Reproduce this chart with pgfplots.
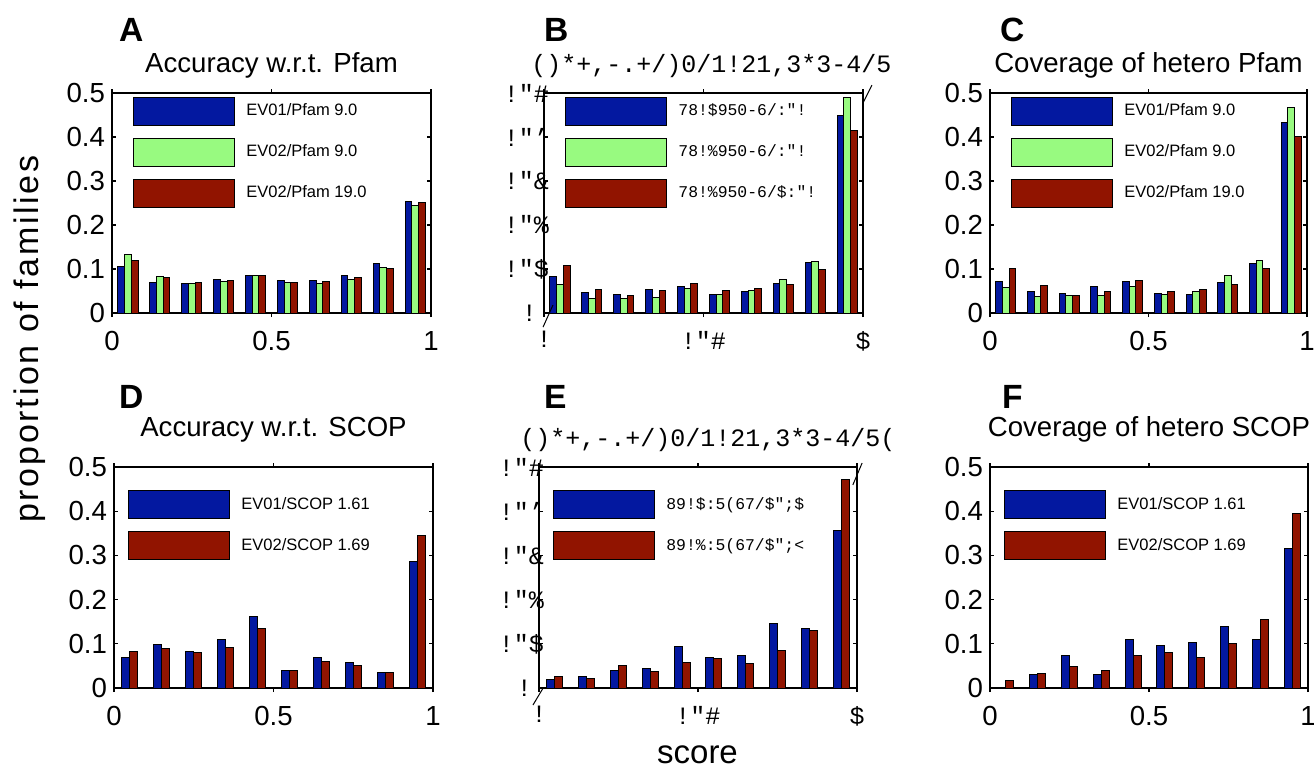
\documentclass[border=0pt]{standalone}
\usepackage{fontspec}
\setmainfont{Liberation Sans}
\newfontfamily\monofont{Liberation Mono}
\usepackage{pgfplots}
\usepackage{pgfplotstable}
\pgfplotsset{compat=1.18}

\definecolor{bblue}{RGB}{3,24,160}
\definecolor{lgreen}{RGB}{152,250,128}
\definecolor{dred}{RGB}{145,20,0}

\pgfplotstableread{
x b g r
0.05 0.106 0.133 0.119
0.15 0.070 0.082 0.080
0.25 0.067 0.067 0.070
0.35 0.076 0.072 0.073
0.45 0.085 0.086 0.085
0.55 0.073 0.069 0.070
0.65 0.073 0.067 0.072
0.75 0.086 0.077 0.080
0.85 0.112 0.103 0.101
0.95 0.254 0.244 0.252
}\dataA
\pgfplotstableread{
x b g r
0.05 0.083 0.064 0.108
0.15 0.047 0.033 0.054
0.25 0.042 0.034 0.039
0.35 0.053 0.036 0.051
0.45 0.060 0.056 0.067
0.55 0.042 0.043 0.052
0.65 0.050 0.051 0.055
0.75 0.067 0.076 0.064
0.85 0.114 0.117 0.098
0.95 0.448 0.489 0.414
}\dataB
\pgfplotstableread{
x b g r
0.05 0.072 0.059 0.101
0.15 0.048 0.037 0.062
0.25 0.045 0.039 0.039
0.35 0.061 0.039 0.048
0.45 0.071 0.061 0.075
0.55 0.045 0.041 0.050
0.65 0.041 0.048 0.053
0.75 0.070 0.086 0.065
0.85 0.113 0.120 0.102
0.95 0.432 0.468 0.401
}\dataC
\pgfplotstableread{
x b r
0.05 0.069 0.083
0.15 0.099 0.089
0.25 0.083 0.080
0.35 0.109 0.091
0.45 0.161 0.135
0.55 0.039 0.039
0.65 0.070 0.060
0.75 0.058 0.051
0.85 0.036 0.036
0.95 0.286 0.344
}\dataD
\pgfplotstableread{
x b r
0.05 0.019 0.027
0.15 0.027 0.021
0.25 0.040 0.051
0.35 0.045 0.038
0.45 0.094 0.057
0.55 0.069 0.066
0.65 0.073 0.056
0.75 0.146 0.084
0.85 0.134 0.129
0.95 0.357 0.472
}\dataE
\pgfplotstableread{
x b r
0.05 0.000 0.016
0.15 0.031 0.033
0.25 0.073 0.049
0.35 0.031 0.040
0.45 0.109 0.073
0.55 0.097 0.080
0.65 0.103 0.069
0.75 0.139 0.100
0.85 0.109 0.156
0.95 0.315 0.395
}\dataF

\newcommand{\tickfont}{\fontsize{13.8}{15}\selectfont}
\newcommand{\legfont}{\fontsize{8.25}{9}\selectfont}
\newcommand{\letfont}{\bfseries\fontsize{16.8}{18}\selectfont}

\pgfplotsset{
  panel/.style={
    scale only axis, width=159.5pt, height=110pt,
    anchor=south west,
    xmin=0, xmax=1, ymin=0, ymax=0.5,
    xtick={0,0.5,1}, ytick={0,0.1,0.2,0.3,0.4,0.5},
    tick align=inside, major tick length=2pt,
    tick style={line width=0.6pt, black},
    axis line style={line width=1pt},
    ybar,
    /pgf/number format/assume math mode=true,
    tick label style={font=\tickfont},
    xticklabel style={yshift=-3.5pt},
    title style={at={(0.5,1)}, anchor=base, yshift=4.5pt, font=\tickfont},
    legend cell align=left,
    legend image code/.code={\draw[##1,draw=black,line width=0.5pt] (0pt,-7pt) rectangle (50.5pt,7pt);},
    legend style={draw=none, fill=none, anchor=north west, inner sep=0pt,
      row sep=6pt, font=\legfont,
      /tikz/every odd column/.append style={column sep=3.5pt}},
  },
  mono/.style={
    tick label style={font=\monofont\fontsize{12.5}{14}\selectfont},
    yticklabel style={xshift=6pt},
    title style={font=\monofont\fontsize{12.5}{14}\selectfont},
    legend style={font=\monofont\fontsize{8.2}{9}\selectfont},
  },
  row1/.style={legend style={at={(0.066,0.986)}}},
  row2/.style={legend style={at={(0.044,0.896)}}},
}

\begin{document}
\begin{tikzpicture}
\useasboundingbox (0,0) rectangle (657pt,-383.5pt);

% ---------- A ----------
\begin{axis}[panel, row1, at={(56pt,-156.5pt)},
  title={Accuracy w.r.t. Pfam},
  extra description/.code={\node[anchor=base west,font=\letfont] at ([yshift=26pt]axis description cs:0,1) {A};}]
\addplot[fill=bblue, draw=black, line width=0.5pt, bar width=0.021, bar shift=-0.021] table[x=x,y=b]{\dataA};
\addlegendentry{EV01/Pfam 9.0}
\addplot[fill=lgreen, draw=black, line width=0.5pt, bar width=0.021, bar shift=0] table[x=x,y=g]{\dataA};
\addlegendentry{EV02/Pfam 9.0}
\addplot[fill=dred, draw=black, line width=0.5pt, bar width=0.021, bar shift=0.021] table[x=x,y=r]{\dataA};
\addlegendentry{EV02/Pfam 19.0}
\end{axis}

% ---------- B ----------
\begin{axis}[panel, mono, row1, at={(272pt,-156.5pt)},
  title={()*+,-.+/)0/1!21,3*3-4/5}, title style={xshift=4pt, yshift=0pt},
  xticklabels={!,!"\#,\$},
  yticklabels={{!\kern6pt},!"\$,!"\%,!"\&,!"’,!"\#},
  extra description/.code={
    \node[anchor=base west,font=\letfont] at ([xshift=-3.5pt,yshift=26pt]axis description cs:0,1) {B};
    \draw[line width=0.5pt] (axis description cs:-0.003,-0.064) -- (axis description cs:0.028,0.036);
    \draw[line width=0.5pt] (axis description cs:1.0,0.955) -- (axis description cs:1.028,1.036);
  }]
\addplot[fill=bblue, draw=black, line width=0.5pt, bar width=0.021, bar shift=-0.021] table[x=x,y=b]{\dataB};
\addlegendentry{78!\$950-6/:"!}
\addplot[fill=lgreen, draw=black, line width=0.5pt, bar width=0.021, bar shift=0] table[x=x,y=g]{\dataB};
\addlegendentry{78!\%950-6/:"!}
\addplot[fill=dred, draw=black, line width=0.5pt, bar width=0.021, bar shift=0.021] table[x=x,y=r]{\dataB};
\addlegendentry{78!\%950-6/\$:"!}
\end{axis}

% ---------- C ----------
\begin{axis}[panel, row1, at={(495pt,-156.5pt)}, width=158.5pt,
  title={Coverage of hetero Pfam},
  extra description/.code={\node[anchor=base west,font=\letfont] at ([xshift=1.5pt,yshift=26pt]axis description cs:0,1) {C};}]
\addplot[fill=bblue, draw=black, line width=0.5pt, bar width=0.021, bar shift=-0.021] table[x=x,y=b]{\dataC};
\addlegendentry{EV01/Pfam 9.0}
\addplot[fill=lgreen, draw=black, line width=0.5pt, bar width=0.021, bar shift=0] table[x=x,y=g]{\dataC};
\addlegendentry{EV02/Pfam 9.0}
\addplot[fill=dred, draw=black, line width=0.5pt, bar width=0.021, bar shift=0.021] table[x=x,y=r]{\dataC};
\addlegendentry{EV02/Pfam 19.0}
\end{axis}

% ---------- D ----------
\begin{axis}[panel, row2, at={(57pt,-344pt)}, height=110.5pt,
  title={Accuracy w.r.t. SCOP}, title style={yshift=5pt},
  extra description/.code={\node[anchor=base west,font=\letfont] at ([xshift=-1pt,yshift=29.5pt]axis description cs:0,1) {D};}]
\addplot[fill=bblue, draw=black, line width=0.5pt, bar width=0.025, bar shift=-0.0125] table[x=x,y=b]{\dataD};
\addlegendentry{EV01/SCOP 1.61}
\addplot[fill=dred, draw=black, line width=0.5pt, bar width=0.025, bar shift=0.0125] table[x=x,y=r]{\dataD};
\addlegendentry{EV02/SCOP 1.69}
\end{axis}

% ---------- E ----------
\begin{axis}[panel, mono, row2, at={(269.5pt,-344pt)}, width=159pt, height=110.5pt,
  title={()*+,-.+/)0/1!21,3*3-4/5(}, title style={xshift=5pt, yshift=0pt},
  xticklabels={!,!"\#,\$},
  yticklabels={{!\kern6pt},!"\$,!"\%,!"\&,!"’,!"\#},
  extra description/.code={
    \node[anchor=base west,font=\letfont] at ([xshift=-1pt,yshift=29.5pt]axis description cs:0,1) {E};
    \draw[line width=0.5pt] (axis description cs:-0.019,-0.077) -- (axis description cs:0.013,0);
    \draw[line width=0.5pt] (axis description cs:0.987,0.919) -- (axis description cs:1.016,1.018);
  }]
\addplot[fill=bblue, draw=black, line width=0.5pt, bar width=0.025, bar shift=-0.0125] table[x=x,y=b]{\dataE};
\addlegendentry{89!\$:5(67/\$";\$}
\addplot[fill=dred, draw=black, line width=0.5pt, bar width=0.025, bar shift=0.0125] table[x=x,y=r]{\dataE};
\addlegendentry{89!\%:5(67/\$";<}
\end{axis}

% ---------- F ----------
\begin{axis}[panel, row2, at={(495pt,-344pt)}, width=159pt, height=110.5pt,
  title={Coverage of hetero SCOP}, title style={yshift=5pt},
  extra description/.code={\node[anchor=base west,font=\letfont] at ([xshift=2.5pt,yshift=29.5pt]axis description cs:0,1) {F};}]
\addplot[fill=bblue, draw=black, line width=0.5pt, bar width=0.025, bar shift=-0.0125] table[x=x,y=b]{\dataF};
\addlegendentry{EV01/SCOP 1.61}
\addplot[fill=dred, draw=black, line width=0.5pt, bar width=0.025, bar shift=0.0125] table[x=x,y=r]{\dataF};
\addlegendentry{EV02/SCOP 1.69}
\end{axis}

% shared labels
\node[rotate=90, anchor=center, font={\addfontfeature{LetterSpace=8}\fontsize{17}{19}\selectfont}] at (15pt,-169.5pt) {proportion of families};
\node[anchor=base, inner sep=0pt, font=\fontsize{16.5}{19}\selectfont] at (348.75pt,-381.5pt) {score};
\end{tikzpicture}
\end{document}
